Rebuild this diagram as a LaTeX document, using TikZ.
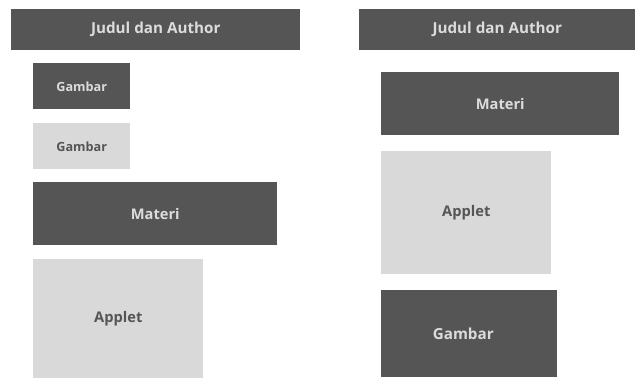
\documentclass[tikz,border=0pt]{standalone}
\usepackage{fontspec}
\setmainfont{Open Sans}
\usepackage{xcolor}
\usepackage{tikz}
\usetikzlibrary{positioning}
\definecolor{blockdark}{HTML}{555555}
\definecolor{blocklight}{HTML}{D9D9D9}
\definecolor{textlight}{HTML}{DCDCDC}

\begin{document}
\begin{tikzpicture}[
  x=0.75pt, y=-0.75pt,
  block/.style={rectangle, inner sep=0pt, anchor=north west, font=\bfseries\fontsize{11pt}{13pt}\selectfont},
  darkblock/.style={block, fill=blockdark, text=textlight},
  lightblock/.style={block, fill=blocklight, text=blockdark},
  smallfont/.style={font=\bfseries\fontsize{9.5pt}{11pt}\selectfont},
  titlefont/.style={font=\bfseries\fontsize{11.4pt}{13pt}\selectfont}
]
\useasboundingbox (0,0) rectangle (635,378);

% left layout
\node[darkblock, titlefont, minimum width=289*0.75pt, minimum height=41*0.75pt] (titleL) at (11,9) {Judul dan Author};
\node[darkblock, smallfont, minimum width=97*0.75pt, minimum height=46*0.75pt] (gambarL1) at (33,63) {Gambar};
\node[lightblock, smallfont, minimum width=97*0.75pt, minimum height=46*0.75pt] (gambarL2) at (33,123) {Gambar};
\node[darkblock, minimum width=244*0.75pt, minimum height=63*0.75pt] (materiL) at (33,182) {Materi};
\node[lightblock, minimum width=170*0.75pt, minimum height=119*0.75pt] (appletL) at (33,259) {Applet};

% right layout
\node[darkblock, titlefont, minimum width=276*0.75pt, minimum height=41*0.75pt] (titleR) at (359,9) {Judul dan Author};
\node[darkblock, minimum width=238*0.75pt, minimum height=63*0.75pt] (materiR) at (381,72) {Materi};
\node[lightblock, minimum width=170*0.75pt, minimum height=123*0.75pt] (appletR) at (381,151) {Applet};
\node[darkblock, titlefont, minimum width=176*0.75pt, minimum height=87*0.75pt] (gambarR) at (381,290) {\hspace*{-9pt}Gambar};
\end{tikzpicture}
\end{document}
